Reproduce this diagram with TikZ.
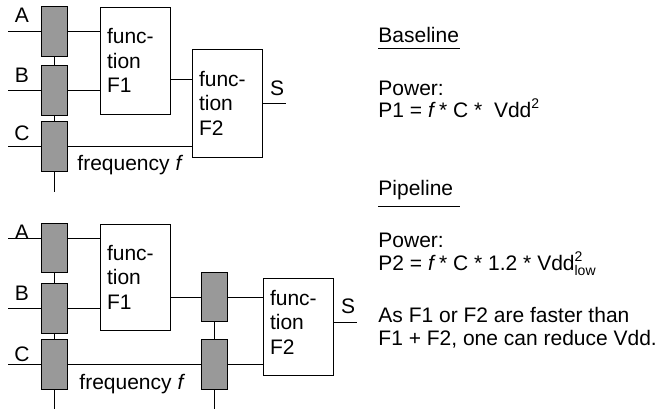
\documentclass[tikz,border=0pt]{standalone}
\usepackage{fontspec}
\setmainfont{Liberation Sans}
\definecolor{regfill}{HTML}{999999}
\newcommand{\mysup}[1]{\raisebox{0.45em}{\fontsize{14}{14}\selectfont #1}}
\newcommand{\mysubsup}[2]{\rlap{\raisebox{0.45em}{\fontsize{14}{14}\selectfont #1}}\raisebox{-0.25em}{\fontsize{14}{14}\selectfont #2}}
\begin{document}
\begin{tikzpicture}[x=1pt,y=-1pt,line width=0.9pt,
  every node/.style={font=\fontsize{21}{24.5}\selectfont},
  reg/.style={draw, fill=regfill, minimum width=26pt, minimum height=50pt, inner sep=0pt},
  fbox/.style={draw, fill=white, minimum width=70pt, text width=56pt, align=left, inner sep=0pt},
  lbl/.style={inner sep=0pt, anchor=center},
  txt/.style={inner sep=0pt, anchor=base west}]
\useasboundingbox (0,0) rectangle (658,411);
% ---------- Baseline circuit ----------
\node[reg] (rA) at (54,31) {};
\node[reg] (rB) at (54,90) {};
\node[reg] (rC) at (54,146) {};
\node[fbox, minimum height=107pt] (F1) at (135,60.5) {func-\\tion\\F1};
\node[fbox, minimum height=108pt] (F2) at (227,103) {func-\\tion\\F2};
\coordinate (inA) at (8,31);
\coordinate (inB) at (8,90);
\coordinate (inC) at (8,146);
\coordinate (clk) at (54,192);
\coordinate (m1) at (180,79);
\coordinate (S1) at (286,103);
\node[lbl] (la) at (22,15) {A};
\node[lbl] (lb) at (22,75) {B};
\node[lbl] (lc) at (22,133) {C};
\node[lbl] (ls) at (277,88) {S};
\node[txt] (fq) at (77,171) {frequency \textit{f}};
\draw (inA) -- (rA.west |- inA);
\draw (inB) -- (rB.west |- inB);
\draw (inC) -- (rC.west |- inC);
\draw (rA.south) -- (rB.north);
\draw (rB.south) -- (rC.north);
\draw (rC.south) -- (clk);
\draw (rA.east |- inA) -- (F1.west |- inA);
\draw (rB.east |- inB) -- (F1.west |- inB);
\draw (rC.east |- inC) -- (F2.west |- inC);
\draw (F1.east |- m1) -- (F2.west |- m1);
\draw (F2.east |- S1) -- (S1);
% ---------- Pipeline circuit ----------
\node[reg, minimum height=49pt] (pA) at (54,247.5) {};
\node[reg] (pB) at (54,308) {};
\node[reg] (pC) at (54,364) {};
\node[reg, minimum height=49pt] (pD) at (214,296.5) {};
\node[reg] (pE) at (214,364) {};
\node[fbox, minimum height=106pt] (G1) at (135,277) {func-\\tion\\F1};
\node[draw, fill=white, minimum width=70pt, minimum height=97pt, inner sep=0pt] (G2) at (298,326.5) {};
\node[lbl, text width=56pt, align=left] (G2t) at (298,322) {func-\\tion\\F2};
\coordinate (jA) at (8,238);
\coordinate (jB) at (8,308);
\coordinate (jC) at (8,364);
\coordinate (clk2) at (54,409);
\coordinate (clk3) at (214,409);
\coordinate (m2) at (190,297);
\coordinate (S2) at (357,322);
\node[lbl] (la2) at (22,232) {A};
\node[lbl] (lb2) at (22,293) {B};
\node[lbl] (lc2) at (22,354) {C};
\node[lbl] (ls2) at (348,306) {S};
\node[txt] (fq2) at (79,389) {frequency \textit{f}};
\draw (jA) -- (pA.west |- jA);
\draw (jB) -- (pB.west |- jB);
\draw (jC) -- (pC.west |- jC);
\draw (pA.south) -- (pB.north);
\draw (pB.south) -- (pC.north);
\draw (pC.south) -- (clk2);
\draw (pD.south) -- (pE.north);
\draw (pE.south) -- (clk3);
\draw (pA.east |- jA) -- (G1.west |- jA);
\draw (pB.east |- jB) -- (G1.west |- jB);
\draw (G1.east |- m2) -- (pD.west |- m2);
\draw (pD.east |- m2) -- (G2.west |- m2);
\draw (pC.east |- jC) -- (pE.west |- jC);
\draw (pE.east |- jC) -- (G2.west |- jC);
\draw (G2.east |- S2) -- (S2);
% ---------- Text ----------
\node[txt] (t1) at (378,42.5) {Baseline};
\draw (t1.base west) ++(0,5.8) -- ++(82,0);
\node[txt] (t2) at (378,95.5) {Power:};
\node[txt] (t3) at (378,117.5) {P1 = \textit{f}\,* C *\ \ Vdd\mysup{2}};
\node[txt] (t4) at (378,195.5) {Pipeline};
\draw (t4.base west) ++(0,11.2) -- ++(82,0);
\node[txt] (t5) at (378,247.5) {Power:};
\node[txt] (t6) at (378,270.5) {P2 = \textit{f}\,* C * 1.2 * Vdd\mysubsup{2}{low}};
\node[txt] (t7) at (378,322.5) {As F1 or F2 are faster than};
\node[txt] (t8) at (378,345.5) {F1 + F2, one can reduce Vdd.};
\end{tikzpicture}
\end{document}
